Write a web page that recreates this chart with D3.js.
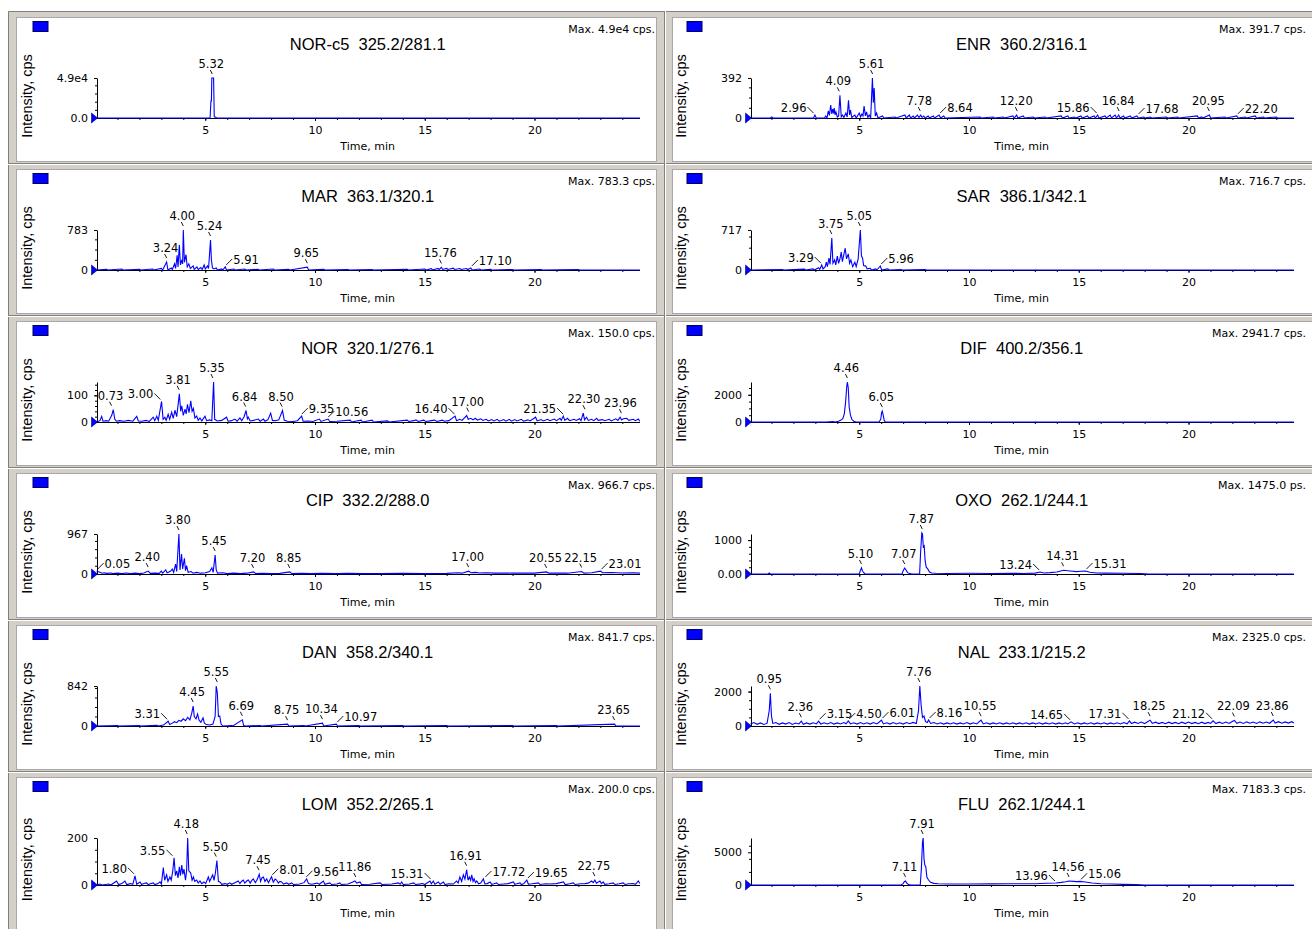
<!DOCTYPE html>
<html>
<head>
<meta charset="utf-8">
<script src="https://cdn.jsdelivr.net/npm/d3@7"></script>
<style>
body { margin: 0; background: #fff; }
svg text { font-family: "DejaVu Sans", sans-serif; fill: #000; }
</style>
</head>
<body>
<script>
// Panels, row by row (left, right)
var panelNames = ["NOR-c5  325.2/281.1", "ENR  360.2/316.1", "MAR  363.1/320.1", "SAR  386.1/342.1",
    "NOR  320.1/276.1", "DIF  400.2/356.1", "CIP  332.2/288.0", "OXO  262.1/244.1",
    "DAN  358.2/340.1", "NAL  233.1/215.2", "LOM  352.2/265.1", "FLU  262.1/244.1"];
var maxLabels = ["Max. 4.9e4 cps.", "Max. 391.7 cps.", "Max. 783.3 cps.", "Max. 716.7 cps.",
    "Max. 150.0 cps.", "Max. 2941.7 cps.", "Max. 966.7 cps.", "Max. 1475.0 ps.",
    "Max. 841.7 cps.", "Max. 2325.0 cps.", "Max. 200.0 cps.", "Max. 7183.3 cps."];
var yTops = [49000, 391.7, 783.3, 716.7, 150, 2941.7, 966.7, 1180, 841.7, 2325, 200, 7183.3];
var yTickVals = [49000, 392, 783, 717, 100, 2000, 967, 1000, 842, 2000, 200, 5000];
var yTickText = ["4.9e4", "392", "783", "717", "100", "2000", "967", "1000", "842", "2000", "200", "5000"];
var zeroText = ["0.0", "0", "0", "0", "0", "0", "0", "0.00", "0", "0", "0", "0"];
var xTicks = [5, 10, 15, 20];

// traces: [time (min), intensity (cps)]
var norc5Trace = [[0.05,0],[5.22,0],[5.26,21000],[5.28,21000],[5.30,49000],[5.38,49000],[5.41,1500],[5.48,800],[5.52,0],[24.8,0]];
var enrTrace = [[0.05,0],[0.95,0],[1.01,10],[1.07,0],[2.92,0],[2.98,29],[3.04,0],[3.42,0],[3.47,20],[3.53,0],[3.59,69],[3.64,25],[3.70,127],[3.75,40],[3.79,88],[3.83,45],[3.86,98],[3.90,30],[3.94,59],[4.0,10],[4.06,20],[4.12,222],[4.18,10],[4.24,29],[4.30,5],[4.39,49],[4.45,10],[4.51,173],[4.56,30],[4.60,78],[4.66,5],[4.80,29],[4.86,0],[5.0,49],[5.06,10],[5.12,39],[5.17,20],[5.22,118],[5.28,20],[5.33,59],[5.39,5],[5.45,29],[5.52,0],[5.60,391.7],[5.64,150],[5.68,294],[5.73,20],[5.79,49],[5.85,0],[6.06,20],[6.12,0],[6.63,10],[6.69,0],[7.08,29],[7.14,0],[7.28,29],[7.34,0],[7.46,20],[7.52,0],[7.65,29],[7.72,5],[7.80,29],[7.86,5],[7.94,20],[8.0,0],[8.14,20],[8.2,0],[8.37,20],[8.43,0],[8.64,29],[8.7,0],[8.85,20],[8.91,0],[10.5,10],[10.56,0],[11.1,10],[11.16,0],[11.56,10],[11.62,0],[12.0,20],[12.06,0],[12.17,29],[12.23,0],[12.47,20],[12.53,0],[12.93,10],[12.99,0],[13.46,10],[13.52,0],[14.2,20],[14.26,0],[14.5,20],[14.56,0],[14.8,10],[14.86,0],[15.1,20],[15.16,0],[15.4,20],[15.46,0],[15.7,20],[15.76,0],[15.86,29],[15.92,0],[16.2,20],[16.26,0],[16.43,29],[16.49,0],[16.66,29],[16.72,0],[16.82,29],[16.88,0],[17.04,20],[17.1,0],[17.35,20],[17.41,0],[17.65,20],[17.71,0],[17.96,10],[18.02,0],[18.26,10],[18.32,0],[19.0,10],[19.06,0],[19.5,10],[19.56,0],[20.4,20],[20.46,0],[20.6,10],[20.66,0],[20.95,29],[21.01,0],[21.66,10],[21.72,0],[22.2,20],[22.26,0],[22.58,10],[22.64,0],[23.04,20],[23.1,0],[23.41,10],[23.47,0],[24.0,10],[24.06,0],[24.8,0]];
var marTrace = [[0.05,0],[0.5,15],[0.56,0],[1.2,20],[1.26,0],[2.0,15],[2.06,0],[2.6,20],[2.66,0],[3.0,30],[3.06,0],[3.24,157],[3.3,0],[3.45,40],[3.5,10],[3.6,120],[3.65,30],[3.72,290],[3.76,60],[3.82,490],[3.87,100],[3.93,200],[3.97,120],[4.00,783.3],[4.05,150],[4.12,300],[4.18,60],[4.25,120],[4.32,30],[4.45,80],[4.5,10],[4.62,60],[4.68,10],[4.8,50],[4.86,10],[4.95,100],[5.0,20],[5.1,80],[5.15,30],[5.24,588],[5.28,200],[5.33,40],[5.4,20],[5.5,40],[5.56,0],[5.75,20],[5.8,0],[5.91,60],[5.97,0],[6.3,20],[6.36,0],[6.8,20],[6.86,0],[7.4,15],[7.46,0],[8.1,20],[8.16,0],[8.8,15],[8.86,0],[9.65,55],[9.71,0],[10.4,15],[10.46,0],[11.5,10],[11.56,0],[12.6,10],[12.66,0],[14.2,15],[14.26,0],[15.0,20],[15.06,0],[15.3,25],[15.36,0],[15.6,30],[15.66,10],[15.76,50],[15.82,10],[16.0,30],[16.06,10],[16.3,35],[16.36,10],[16.6,30],[16.66,10],[16.9,30],[16.96,10],[17.1,40],[17.16,0],[17.5,20],[17.56,0],[18.0,15],[18.06,0],[19.0,10],[19.06,0],[20.3,10],[20.36,0],[22.0,10],[22.06,0],[24.8,0]];
var sarTrace = [[0.05,0],[1.5,10],[1.56,0],[2.5,15],[2.56,0],[2.9,20],[2.96,0],[3.15,40],[3.2,10],[3.29,90],[3.35,20],[3.45,60],[3.5,140],[3.55,60],[3.62,215],[3.67,100],[3.75,573],[3.8,120],[3.88,180],[3.93,90],[4.0,250],[4.06,120],[4.12,200],[4.18,320],[4.23,150],[4.3,280],[4.36,390],[4.42,200],[4.5,290],[4.56,120],[4.62,180],[4.7,60],[4.8,140],[4.86,60],[4.95,200],[5.05,716.7],[5.1,250],[5.15,215],[5.2,80],[5.3,70],[5.36,20],[5.5,30],[5.56,0],[5.75,20],[5.8,0],[5.96,72],[6.02,0],[6.3,20],[6.36,0],[6.9,10],[6.96,0],[8.0,10],[8.06,0],[24.8,0]];
var norTrace = [[0.05,0],[0.2,5],[0.28,21],[0.34,3],[0.5,5],[0.6,3],[0.74,25],[0.81,46],[0.88,10],[0.95,3],[1.1,5],[1.3,3],[1.5,6],[1.7,3],[1.88,21],[1.95,4],[2.1,3],[2.3,6],[2.45,2],[2.63,18],[2.7,5],[2.79,22],[2.86,6],[3.01,77],[3.08,10],[3.16,18],[3.22,6],[3.31,29],[3.38,10],[3.47,37],[3.54,14],[3.62,44],[3.7,20],[3.82,106],[3.88,40],[3.93,61],[4.0,25],[4.08,48],[4.13,30],[4.19,66],[4.26,35],[4.34,79],[4.4,40],[4.46,51],[4.53,15],[4.61,22],[4.68,6],[4.76,15],[4.84,4],[4.99,22],[5.06,5],[5.2,8],[5.3,5],[5.38,150],[5.43,10],[5.55,4],[5.75,6],[5.97,18],[6.04,3],[6.2,5],[6.35,11],[6.45,3],[6.58,15],[6.66,5],[6.77,20],[6.86,43],[6.92,12],[6.96,18],[7.05,4],[7.2,6],[7.42,11],[7.5,3],[7.65,11],[7.72,3],[7.85,8],[7.98,33],[8.06,6],[8.2,5],[8.35,8],[8.52,43],[8.6,6],[8.75,3],[9.0,2],[9.2,5],[9.39,22],[9.46,3],[9.7,4],[9.9,2],[10.2,11],[10.27,2],[10.6,11],[10.67,2],[11.0,3],[11.6,7],[11.67,0],[12.1,7],[12.17,0],[12.6,7],[12.67,0],[13.3,4],[13.37,0],[14.2,7],[14.27,2],[14.5,5],[14.6,8],[14.7,2],[14.95,7],[15.05,2],[15.3,5],[15.45,7],[15.55,2],[15.8,7],[15.9,3],[16.1,5],[16.38,22],[16.45,5],[16.6,10],[16.7,6],[16.91,24],[16.98,10],[17.1,14],[17.2,8],[17.3,14],[17.4,7],[17.55,12],[17.65,6],[17.8,10],[17.9,4],[18.05,9],[18.15,4],[18.3,10],[18.4,3],[18.6,9],[18.7,3],[18.85,10],[18.95,3],[19.1,9],[19.2,4],[19.4,10],[19.5,3],[19.7,8],[19.8,4],[20.05,18],[20.12,4],[20.3,9],[20.4,4],[20.6,10],[20.7,5],[20.9,11],[21.0,5],[21.16,14],[21.22,6],[21.31,22],[21.38,6],[21.5,14],[21.6,5],[21.8,10],[21.9,6],[22.05,12],[22.12,5],[22.22,33],[22.28,8],[22.37,18],[22.45,6],[22.6,10],[22.7,5],[22.83,14],[22.9,6],[23.1,9],[23.2,5],[23.4,10],[23.5,4],[23.7,12],[23.8,6],[23.9,18],[23.97,8],[24.05,12],[24.2,14],[24.3,6],[24.5,10],[24.6,5],[24.73,11],[24.8,3]];
var difTrace = [[0.05,0],[3.5,0],[3.8,40],[3.9,0],[4.05,60],[4.15,120],[4.25,250],[4.32,600],[4.38,1500],[4.43,2600],[4.46,2941.7],[4.5,2500],[4.54,1100],[4.6,500],[4.66,200],[4.75,60],[4.85,0],[5.9,0],[5.98,200],[6.02,700],[6.05,800],[6.09,500],[6.14,100],[6.2,0],[24.8,0]];
var cipTrace = [[0.05,70],[0.1,60],[0.2,40],[0.3,20],[0.4,30],[0.5,15],[0.7,25],[0.8,10],[1.0,20],[1.2,10],[1.4,25],[1.6,10],[1.8,20],[2.0,10],[2.2,25],[2.4,70],[2.5,15],[2.7,20],[2.9,15],[3.0,70],[3.06,20],[3.2,100],[3.26,30],[3.4,60],[3.5,120],[3.56,40],[3.65,240],[3.7,60],[3.8,966.7],[3.85,100],[3.92,480],[3.97,120],[4.05,380],[4.1,80],[4.15,200],[4.22,40],[4.35,60],[4.45,20],[4.6,40],[4.8,20],[5.0,30],[5.2,60],[5.3,150],[5.36,40],[5.45,460],[5.5,100],[5.56,20],[5.8,30],[6.0,10],[6.3,20],[6.6,10],[6.9,20],[7.2,50],[7.3,10],[7.6,15],[8.0,10],[8.4,15],[8.85,50],[8.95,10],[9.4,15],[9.8,10],[10.3,15],[11.0,10],[11.5,15],[12.2,10],[13.0,10],[14.0,15],[15.0,10],[16.0,15],[16.5,30],[16.7,20],[17.0,70],[17.1,30],[17.3,40],[17.5,25],[17.8,30],[18.2,20],[18.6,25],[19.0,20],[19.5,25],[20.0,20],[20.55,50],[20.65,20],[21.0,25],[21.5,20],[22.15,60],[22.25,20],[22.6,30],[23.01,70],[23.1,30],[23.5,35],[24.0,25],[24.5,30],[24.8,20]];
var oxoTrace = [[0.05,0],[0.85,0],[0.9,30],[0.95,0],[5.0,0],[5.05,100],[5.1,180],[5.15,80],[5.25,10],[5.3,0],[6.95,0],[7.0,100],[7.07,177],[7.13,120],[7.2,40],[7.3,10],[7.4,0],[7.75,0],[7.8,700],[7.85,1210],[7.88,1180],[7.92,800],[7.96,830],[8.0,400],[8.05,200],[8.12,150],[8.2,60],[8.3,30],[8.5,20],[9.0,15],[10.0,20],[11.0,15],[12.0,20],[12.5,15],[13.0,25],[13.24,60],[13.4,30],[13.7,40],[14.0,60],[14.31,110],[14.6,90],[14.9,70],[15.1,80],[15.31,90],[15.5,50],[15.8,30],[16.2,25],[17.0,20],[17.8,15],[18.2,0],[24.8,0]];
var danTrace = [[0.05,0],[1.0,10],[1.06,0],[2.0,10],[2.06,0],[2.8,15],[2.86,0],[3.1,20],[3.31,100],[3.38,30],[3.5,60],[3.6,90],[3.7,70],[3.8,120],[3.9,100],[4.0,150],[4.1,110],[4.2,180],[4.3,130],[4.38,260],[4.45,420],[4.5,200],[4.58,150],[4.65,250],[4.72,120],[4.8,80],[4.9,170],[4.96,60],[5.05,30],[5.2,20],[5.35,40],[5.45,200],[5.5,841.7],[5.55,700],[5.6,200],[5.66,210],[5.72,40],[5.8,0],[6.2,10],[6.26,0],[6.69,130],[6.75,10],[6.85,0],[7.5,10],[7.56,0],[8.75,40],[8.81,0],[9.5,10],[9.56,0],[10.34,60],[10.4,0],[10.97,40],[11.03,0],[12.0,10],[12.06,0],[14.0,10],[14.06,0],[16.0,10],[16.06,0],[19.0,10],[19.06,0],[21.0,10],[21.06,0],[23.65,40],[23.71,0],[24.8,0]];
var nalTrace = [[0.05,120],[0.2,200],[0.35,100],[0.5,180],[0.65,90],[0.8,150],[0.9,900],[0.95,1900],[1.0,600],[1.06,150],[1.2,200],[1.35,100],[1.5,180],[1.65,110],[1.8,200],[1.95,90],[2.1,170],[2.25,120],[2.36,280],[2.45,100],[2.6,180],[2.75,110],[2.9,190],[3.05,120],[3.15,280],[3.25,110],[3.4,190],[3.55,120],[3.7,200],[3.85,110],[4.0,180],[4.15,120],[4.3,200],[4.4,130],[4.5,290],[4.6,120],[4.75,190],[4.9,110],[5.05,200],[5.2,120],[5.35,190],[5.5,110],[5.65,200],[5.8,120],[5.9,220],[6.01,340],[6.1,120],[6.25,190],[6.4,110],[6.55,200],[6.7,120],[6.85,190],[7.0,110],[7.15,200],[7.3,130],[7.45,210],[7.6,150],[7.7,900],[7.76,2325],[7.82,1200],[7.88,500],[7.95,580],[8.02,250],[8.1,200],[8.16,350],[8.25,150],[8.4,200],[8.55,120],[8.7,190],[8.85,110],[9.0,180],[9.15,120],[9.3,190],[9.45,110],[9.6,180],[9.75,120],[9.9,200],[10.05,110],[10.2,190],[10.35,120],[10.55,340],[10.65,120],[10.8,190],[10.95,110],[11.1,180],[11.25,120],[11.4,190],[11.55,110],[11.7,180],[11.85,120],[12.0,190],[12.15,110],[12.3,180],[12.45,120],[12.6,190],[12.75,110],[12.9,180],[13.05,120],[13.2,190],[13.35,110],[13.5,180],[13.65,120],[13.8,190],[13.95,110],[14.1,180],[14.25,120],[14.4,190],[14.5,120],[14.65,240],[14.8,120],[14.95,190],[15.1,110],[15.25,180],[15.4,120],[15.55,190],[15.7,110],[15.85,180],[16.0,120],[16.15,190],[16.3,110],[16.45,180],[16.6,120],[16.75,190],[16.9,120],[17.05,200],[17.2,130],[17.31,300],[17.4,140],[17.55,220],[17.7,150],[17.85,230],[18.0,140],[18.1,220],[18.25,340],[18.35,150],[18.5,220],[18.65,140],[18.8,210],[18.95,130],[19.1,220],[19.25,140],[19.4,210],[19.55,130],[19.7,220],[19.85,140],[20.0,230],[20.15,140],[20.3,210],[20.45,130],[20.6,220],[20.75,140],[20.9,210],[21.0,150],[21.12,300],[21.25,140],[21.4,220],[21.55,150],[21.7,230],[21.85,150],[21.95,230],[22.09,320],[22.2,160],[22.35,230],[22.5,150],[22.65,240],[22.8,160],[22.95,230],[23.1,150],[23.25,240],[23.4,160],[23.55,230],[23.7,160],[23.86,350],[23.95,170],[24.1,250],[24.25,160],[24.4,240],[24.55,170],[24.7,250],[24.8,180]];
var lomTrace = [[0.05,0],[0.2,4],[0.3,0],[0.6,4],[0.7,0],[0.96,17],[1.05,2],[1.2,6],[1.34,17],[1.42,2],[1.6,6],[1.7,3],[1.8,39],[1.88,3],[2.03,13],[2.1,2],[2.2,6],[2.33,9],[2.4,2],[2.5,5],[2.63,9],[2.7,2],[2.85,6],[2.94,13],[3.0,4],[3.09,74],[3.15,20],[3.24,43],[3.3,15],[3.39,34],[3.45,20],[3.52,60],[3.58,116],[3.64,40],[3.7,60],[3.76,30],[3.82,77],[3.87,40],[3.93,85],[3.98,45],[4.03,68],[4.1,20],[4.15,60],[4.2,200],[4.25,60],[4.34,51],[4.4,20],[4.46,34],[4.52,15],[4.61,21],[4.68,8],[4.76,17],[4.84,6],[4.94,13],[5.02,6],[5.14,34],[5.2,15],[5.27,30],[5.34,43],[5.4,20],[5.46,50],[5.53,104],[5.6,15],[5.67,13],[5.75,3],[5.9,6],[6.0,3],[6.12,9],[6.2,3],[6.35,10],[6.5,17],[6.58,6],[6.65,15],[6.73,21],[6.8,8],[6.9,18],[6.96,21],[7.05,8],[7.12,20],[7.19,26],[7.28,10],[7.35,20],[7.46,46],[7.52,15],[7.58,30],[7.65,34],[7.72,15],[7.8,26],[7.88,10],[8.02,35],[8.1,12],[8.18,25],[8.25,21],[8.33,8],[8.4,15],[8.48,13],[8.56,4],[8.71,9],[8.8,3],[8.94,9],[9.02,2],[9.3,4],[9.5,10],[9.62,26],[9.7,6],[9.85,3],[10.1,8],[10.2,3],[10.38,17],[10.45,3],[10.68,9],[10.75,2],[11.0,4],[11.13,9],[11.2,2],[11.5,4],[11.7,12],[11.82,17],[11.9,8],[12.05,13],[12.12,2],[12.5,3],[12.96,9],[13.05,2],[13.5,4],[13.8,9],[13.88,3],[13.95,13],[14.02,2],[14.3,4],[14.5,9],[14.58,2],[14.9,6],[15.0,2],[15.24,17],[15.3,5],[15.39,17],[15.46,3],[15.62,13],[15.7,3],[15.85,13],[15.92,2],[16.1,5],[16.3,4],[16.45,17],[16.52,8],[16.6,34],[16.68,15],[16.76,43],[16.83,25],[16.91,65],[16.97,20],[17.03,34],[17.09,20],[17.14,43],[17.2,15],[17.25,26],[17.31,10],[17.37,17],[17.45,5],[17.55,8],[17.67,26],[17.74,5],[17.85,6],[17.98,13],[18.05,3],[18.15,5],[18.28,9],[18.35,2],[18.6,4],[18.8,6],[19.04,13],[19.1,3],[19.2,5],[19.34,9],[19.4,2],[19.5,5],[19.65,21],[19.72,4],[19.9,5],[20.18,9],[20.25,2],[20.5,5],[20.7,4],[21.0,6],[21.32,13],[21.4,2],[21.6,5],[21.77,9],[21.85,2],[22.1,5],[22.3,6],[22.45,8],[22.6,17],[22.68,10],[22.75,21],[22.82,8],[22.98,17],[23.05,6],[23.13,13],[23.2,3],[23.4,5],[23.59,9],[23.66,2],[23.85,5],[24.05,9],[24.12,2],[24.3,5],[24.5,6],[24.6,3],[24.73,17],[24.8,6]];
var fluTrace = [[0.05,0],[6.9,0],[7.0,200],[7.05,500],[7.11,620],[7.16,300],[7.25,60],[7.35,0],[7.78,0],[7.83,2500],[7.88,6500],[7.91,7183.3],[7.95,4000],[7.99,3000],[8.03,2800],[8.08,1200],[8.15,800],[8.25,400],[8.4,250],[8.6,180],[9.0,150],[10.0,160],[11.0,170],[12.0,180],[13.0,200],[13.5,260],[13.96,300],[14.2,400],[14.4,500],[14.56,620],[14.75,560],[14.9,520],[15.06,560],[15.3,450],[15.6,300],[16.0,200],[16.5,150],[17.0,100],[17.6,50],[18.0,0],[24.8,0]];
var traces = [norc5Trace, enrTrace, marTrace, sarTrace, norTrace, difTrace, cipTrace, oxoTrace, danTrace, nalTrace, lomTrace, fluTrace];

// labelled retention times
var peakLabels = [
    [5.32],
    [2.96, 4.09, 5.61, 7.78, 8.64, 12.20, 15.86, 16.84, 17.68, 20.95, 22.20],
    [3.24, 4.00, 5.24, 5.91, 9.65, 15.76, 17.10],
    [3.29, 3.75, 5.05, 5.96],
    [0.73, 3.00, 3.81, 5.35, 6.84, 8.50, 9.35, 10.56, 16.40, 17.00, 21.35, 22.30, 23.96],
    [4.46, 6.05],
    [0.05, 2.40, 3.80, 5.45, 7.20, 8.85, 17.00, 20.55, 22.15, 23.01],
    [5.10, 7.07, 7.87, 13.24, 14.31, 15.31],
    [3.31, 4.45, 5.55, 6.69, 8.75, 10.34, 10.97, 23.65],
    [0.95, 2.36, 3.15, 4.50, 6.01, 7.76, 8.16, 10.55, 14.65, 17.31, 18.25, 21.12, 22.09, 23.86],
    [1.80, 3.55, 4.18, 5.50, 7.45, 8.01, 9.56, 11.86, 15.31, 16.91, 17.72, 19.65, 22.75],
    [7.11, 7.91, 13.96, 14.56, 15.06]
];
// where each label sits: l = left of peak, c = above, r = right
var labelSides = ["c", "lcccrclcrcr", "cccrccr", "lccr", "clccccrrlclcc", "cc",
    "rccccccccr", "ccclcr", "lcccccrc", "ccrrrcrcllclcc", "llcccrrclcrrc", "cclcr"];

// layout
var W = 1312, H = 929,
    colX = [8, 665],
    t0Off = [87.5, 84.5],
    maxRight = [655, 1306],
    pxPerMin = 21.95,
    col = {trace: "#0000ff", frame: "#d4d0c8", dark: "#808080"};

var svg = d3.select("body").append("svg")
    .attr("width", W)
    .attr("height", H);

svg.append("rect").attr("width", W).attr("height", H).attr("fill", "#fff");
svg.append("rect")
    .attr("x", 8).attr("y", 11)
    .attr("width", W).attr("height", H)
    .attr("fill", col.frame);
svg.append("path")
    .attr("d", "M8.5," + H + "V11.5H" + W)
    .attr("fill", "none").attr("stroke", col.dark);

var fmt = d3.format(".2f");
var line = d3.line();

panelNames.forEach(function(name, i) {
    var r = Math.floor(i / 2), c = i % 2;
    var x0 = colX[c], y0 = 11 + 152 * r;
    var g = svg.append("g");

    // frame
    if (r > 0) {
        g.append("line").attr("x1", x0).attr("x2", x0 + 660)
            .attr("y1", y0 + 0.5).attr("y2", y0 + 0.5)
            .attr("stroke", col.dark);
        g.append("line").attr("x1", x0).attr("x2", x0 + 660)
            .attr("y1", y0 + 1.5).attr("y2", y0 + 1.5)
            .attr("stroke", "#fff");
    }
    if (c === 1) {
        g.append("line").attr("x1", 664.5).attr("x2", 664.5)
            .attr("y1", y0).attr("y2", y0 + 172)
            .attr("stroke", col.dark);
        g.append("line").attr("x1", 665.5).attr("x2", 665.5)
            .attr("y1", y0).attr("y2", y0 + 172)
            .attr("stroke", "#fff");
    }
    g.append("rect")
        .attr("x", x0 + (c ? 7.5 : 8.5)).attr("y", y0 + 6.5)
        .attr("width", c ? 660 : 640).attr("height", r === 5 ? 200 : 144)
        .attr("fill", "#fff").attr("stroke", "#a8a8a8");

    var base = y0 + (r === 5 ? 114 : 107), top = y0 + 67;
    var t0 = x0 + t0Off[c];
    var x = d3.scaleLinear().domain([0, 24.8]).range([t0, t0 + 24.8 * pxPerMin]);
    var y = d3.scaleLinear().domain([0, yTops[i]]).range([base, top]);
    var ax = Math.round(x(0.05)) + 0.5;
    var mid = (x(0) + x(24.8)) / 2;

    // legend square
    g.append("rect")
        .attr("x", t0 - 62.5).attr("y", y0 + 10.5)
        .attr("width", 15).attr("height", 10)
        .attr("fill", col.trace).attr("stroke", "#000060");

    // y label
    g.append("text")
        .attr("transform", "translate(" + (t0 - 64) + "," + ((top + base) / 2 - 2) + ") rotate(-90)")
        .attr("text-anchor", "middle")
        .style("font-family", "'Liberation Sans', Arial, sans-serif")
        .style("font-size", "14.5px")
        .text("Intensity, cps");

    // title and max
    g.append("text")
        .attr("x", mid).attr("y", y0 + 39)
        .attr("text-anchor", "middle")
        .style("white-space", "pre")
        .style("font-family", "'Liberation Sans', Arial, sans-serif")
        .style("font-size", "16.5px")
        .text(name);
    g.append("text")
        .attr("x", maxRight[c]).attr("y", y0 + 22)
        .attr("text-anchor", "end")
        .style("font-size", "11px")
        .text(maxLabels[i]);

    // x axis
    var xAxis = g.append("g")
        .attr("transform", "translate(0," + base + ")")
        .call(d3.axisBottom(x).tickValues(xTicks).tickSize(3).tickSizeOuter(0).tickPadding(5));
    g.append("g")
        .attr("transform", "translate(0," + base + ")")
        .call(d3.axisBottom(x).tickValues(d3.range(1, 25)).tickSize(2).tickFormat(""))
        .select(".domain").remove();
    xAxis.selectAll("text").style("font-size", "11px");
    xAxis.select(".domain").attr("shape-rendering", "crispEdges");

    g.append("text")
        .attr("x", mid).attr("y", base + 32)
        .attr("text-anchor", "middle")
        .style("font-size", "11px")
        .text("Time, min");

    // y axis
    var yAxis = g.append("g")
        .attr("transform", "translate(" + (ax - 0.5) + ",0)")
        .call(d3.axisLeft(y).tickValues([0, yTickVals[i]]).tickSize(3).tickSizeOuter(0).tickPadding(6)
            .tickFormat(function(d) { return d === 0 ? zeroText[i] : yTickText[i]; }));
    yAxis.selectAll("text").style("font-size", "11px");
    g.append("g")
        .attr("transform", "translate(" + (ax - 0.5) + ",0)")
        .call(d3.axisLeft(y).ticks(5).tickSize(2).tickFormat(""))
        .select(".domain").remove();

    // trace
    line.x(function(d) { return x(d[0]); }).y(function(d) { return y(d[1]); });
    g.append("path")
        .datum(traces[i])
        .attr("d", line)
        .attr("fill", "none")
        .attr("stroke", col.trace)
        .attr("stroke-width", 1.1);

    // origin marker
    g.append("path")
        .attr("d", "M" + (ax - 6) + "," + (base - 5) + "L" + ax + "," + base + "L" + (ax - 6) + "," + (base + 5) + "Z")
        .attr("fill", col.trace).attr("stroke", "#000080").attr("stroke-width", 0.6);

    // peak labels
    peakLabels[i].forEach(function(t, k) {
        var near = traces[i].filter(function(d) { return Math.abs(d[0] - t) <= 0.12; });
        var v = near.length ? d3.max(near, function(d) { return d[1]; }) : 0;
        var px = x(t), py = y(Math.min(v, yTops[i] * 1.03));
        var side = labelSides[i][k];
        var tx, ty, anchor, l;
        if (side === "l") {
            tx = px - 8; ty = py - 3; anchor = "end";
            l = [px - 7, py - 8, px - 1, py - 2];
        } else if (side === "r") {
            tx = px + 8; ty = py - 3; anchor = "start";
            l = [px + 1, py - 2, px + 7, py - 8];
        } else {
            tx = px - 1; ty = py - 10; anchor = "middle";
            l = [px - 2, py - 8, px, py - 4];
        }
        g.append("line")
            .attr("x1", l[0]).attr("y1", l[1]).attr("x2", l[2]).attr("y2", l[3])
            .attr("stroke", "#000").attr("stroke-width", 0.9);
        g.append("text")
            .attr("x", tx).attr("y", ty)
            .attr("text-anchor", anchor)
            .style("font-size", "11.5px")
            .text(fmt(t));
    });
});
</script>
</body>
</html>
